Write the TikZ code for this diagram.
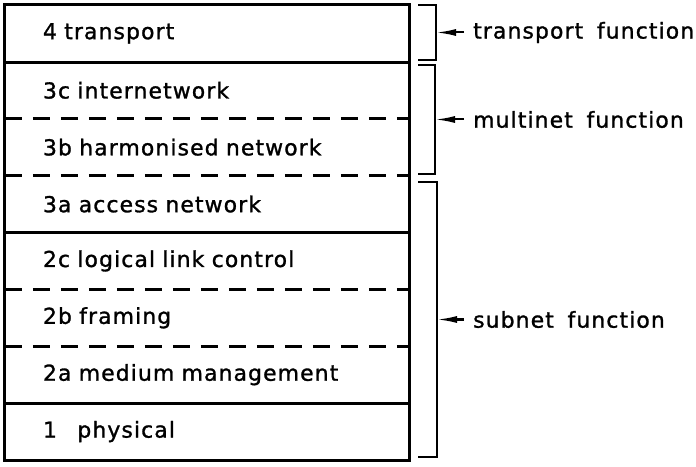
\documentclass[tikz,border=0pt]{standalone}
\usepackage{fontspec}
\setmainfont{DejaVu Sans}[LetterSpace=5,WordSpace=1.7,FakeBold=1.2]
\usetikzlibrary{arrows.meta}
\begin{document}
\begin{tikzpicture}[x=1bp,y=-1bp,
  layer/.style={draw=none,minimum height=56.875bp,text width=328bp,inner xsep=38bp,inner ysep=0pt,align=left,anchor=center,font=\fontsize{22}{24}\selectfont},
  funclabel/.style={anchor=west,inner xsep=9bp,inner ysep=0pt,font=\fontsize{22}{24}\selectfont},
  boxline/.style={line width=3bp},
  dashline/.style={line width=3bp,dash pattern=on 17bp off 11bp},
  bracketline/.style={line width=1.8bp},
  pointer/.style={line width=2bp,-{Latex[length=20bp,width=7bp]}}]
\useasboundingbox (0,0) rectangle (696,467);
% layers
\node[layer] (L4)  at (207,33.44) {4 transport};
\node[layer] (L3c) at (207,90.31) {3c internetwork};
\node[layer] (L3b) at (207,147.19) {3b harmonised network};
\node[layer] (L3a) at (207,204.06) {3a access network};
\node[layer] (L2c) at (207,260.94) {2c logical link control};
\node[layer] (L2b) at (207,317.81) {2b framing};
\node[layer] (L2a) at (207,374.69) {2a medium management};
\node[layer] (L1)  at (207,431.56) {1\hspace{0.6em} physical};
% frame and separators
\draw[boxline] (L4.north west) rectangle (L1.south east);
\draw[boxline] (L4.south west) -- (L4.south east);
\draw[dashline] (L3c.south west) -- (L3c.south east);
\draw[dashline] (L3b.south west) -- (L3b.south east);
\draw[boxline] (L3a.south west) -- (L3a.south east);
\draw[dashline] (L2c.south west) -- (L2c.south east);
\draw[dashline] (L2b.south west) -- (L2b.south east);
\draw[boxline] (L2a.south west) -- (L2a.south east);
% brackets
\draw[bracketline] (418,5) -- (436,5) -- (436,60) -- (418,60);
\coordinate (bT) at (436,32.5);
\draw[bracketline] (418,65) -- (435,65) -- (435,174) -- (418,174);
\coordinate (bM) at (435,119.5);
\draw[bracketline] (418,182) -- (437,182) -- (437,457) -- (418,457);
\coordinate (bS) at (437,319.5);
% labels
\node[funclabel] (fT) at (464,32.5) {transport function};
\node[funclabel] (fM) at (464,119.5) {multinet function};
\node[funclabel] (fS) at (464,319.5) {subnet function};
\draw[pointer] (fT.west) -- (bT);
\draw[pointer] (fM.west) -- (bM);
\draw[pointer] (fS.west) -- (bS);
\end{tikzpicture}
\end{document}
